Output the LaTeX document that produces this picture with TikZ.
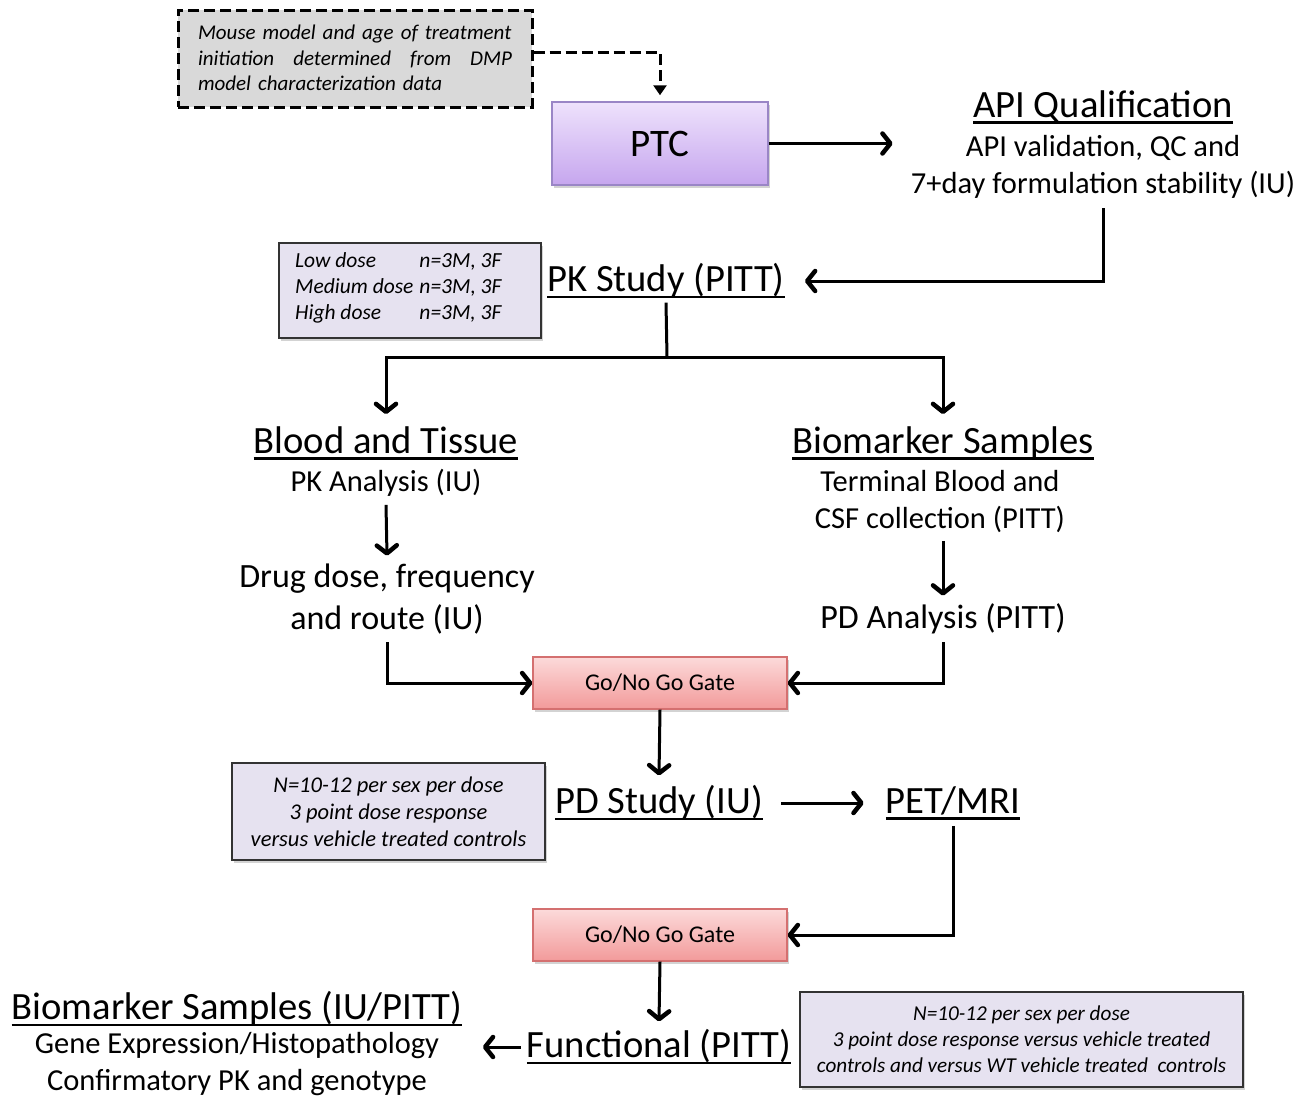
\documentclass[tikz,border=0pt]{standalone}
\usepackage{fontspec}
\setmainfont{Carlito}
\usetikzlibrary{arrows.meta,shadows}
\definecolor{ptctop}{HTML}{EEE2FC}
\definecolor{ptcbot}{HTML}{C6A6EE}
\definecolor{ptcdraw}{HTML}{9A86C6}
\definecolor{gatetop}{HTML}{FCDADA}
\definecolor{gatebot}{HTML}{F29A9A}
\definecolor{gatedraw}{HTML}{D47070}
\definecolor{notefill}{HTML}{E6E2F0}
\definecolor{dashfill}{HTML}{D9D9D9}
\newcommand\myul[1]{\setbox0\hbox{#1}\rlap{\rule[-6.5pt]{\wd0}{2.6pt}}\box0}
\tikzset{
  ttl/.style={font=\fontsize{38.6}{44}\selectfont, inner sep=2pt},
  body/.style={font=\fontsize{30.5}{37}\selectfont, align=center, inner sep=2pt},
  bigbody/.style={font=\fontsize{34}{42}\selectfont, align=center, inner sep=2pt},
  conn/.style={line width=3pt},
  arr/.style={line width=3pt, -{Straight Barb[length=8pt,width=20pt,line width=4.5pt,round]}},
  dasharr/.style={line width=3pt, dash pattern=on 11pt off 5pt, -{Triangle[length=10pt,width=13pt]}},
  shadowed/.style={drop shadow={opacity=0.35, shadow xshift=2pt, shadow yshift=-3pt}},
  notebox/.style={draw=black!80, line width=1.5pt, fill=notefill, shadowed, inner sep=0pt,
     align=center},
  gatebox/.style={draw=gatedraw, line width=1.2pt, top color=gatetop, bottom color=gatebot,
     shadowed, minimum width=254pt, minimum height=52pt, font=\fontsize{24}{28}\selectfont},
}
\begin{document}
\begin{tikzpicture}[x=1pt,y=-1pt]
\useasboundingbox (0,0) rectangle (1307,1100);

% top dashed box
\node[draw=black, line width=3pt, dash pattern=on 11pt off 5pt, fill=dashfill,
      minimum width=354pt, minimum height=97pt, inner sep=0pt] (dbox) at (355,58.5) {};
\node[font=\fontsize{21}{25.5}\selectfont\itshape, text width=314pt, align=left] (dtxt) at (355,58) {%
Mouse model and age of treatment\\
initiation\hfill determined\hfill from\hfill DMP\\
model characterization data};

% PTC
\node[draw=ptcdraw, line width=1.5pt, top color=ptctop, bottom color=ptcbot, shadowed,
      minimum width=216pt, minimum height=83pt, font=\fontsize{39}{44}\selectfont] (ptc) at (660,143.5) {PTC};

% API
\node[ttl] (api) at (1103,107) {\myul{API Qualification}};
\node[body] (apib) at (1103,166.5) {API validation, QC and\\7+day formulation stability (IU)};

% PK
\node[ttl] (pk) at (666,281) {\myul{PK Study (PITT)}};
\node[notebox, minimum width=262pt, minimum height=95pt] (pkn) at (410,290.5) {};
\node[font=\fontsize{21.5}{26}\selectfont\itshape, inner sep=0pt, anchor=west] (pkt) at (295,288) {%
\begin{tabular}{@{}l@{\hspace{6pt}}l@{}}
Low dose & n=3M, 3F\\
Medium dose & n=3M, 3F\\
High dose & n=3M, 3F
\end{tabular}};

\coordinate (split) at (667,357);

% Blood and Tissue
\node[ttl] (bt) at (386,443) {\myul{Blood and Tissue}};
\node[body] (pka) at (386,483) {PK Analysis (IU)};
\node[bigbody] (drug) at (387,599) {Drug dose, frequency\\and route (IU)};

% Biomarker samples
\node[ttl] (bs) at (943,443) {\myul{Biomarker Samples}};
\node[body] (term) at (940,501.5) {Terminal Blood and\\CSF collection (PITT)};
\node[bigbody] (pda) at (943,619) {PD Analysis (PITT)};

% Gate 1
\node[gatebox] (g1) at (660,683) {Go/No Go Gate};

% PD study
\node[ttl] (pd) at (659,803) {\myul{PD Study (IU)}};
\node[ttl] (pet) at (953,803) {\myul{PET/MRI}};
\node[notebox, minimum width=313pt, minimum height=97pt, font=\fontsize{22.5}{27}\selectfont\itshape] (pdn) at (388.5,811.5) {%
N=10-12 per sex per dose\\3 point dose response\\versus vehicle treated controls};

% Gate 2
\node[gatebox] (g2) at (660,935) {Go/No Go Gate};

% Functional
\node[ttl] (fun) at (659,1047) {\myul{Functional (PITT)}};
\node[ttl] (bsb) at (237,1009) {\myul{Biomarker Samples (IU/PITT)}};
\node[body, inner sep=0pt] (gene) at (237,1064) {Gene Expression/Histopathology\\Confirmatory PK and genotype};
\node[notebox, minimum width=443pt, minimum height=95pt, font=\fontsize{21.2}{26}\selectfont\itshape] (fn) at (1021.5,1039.5) {%
N=10-12 per sex per dose\\3 point dose response versus vehicle treated\\controls and versus WT vehicle treated\ \ controls};

% connectors
\draw[dasharr] ([yshift=6pt]dbox.east) -| ([yshift=6pt]ptc.north);
\draw[arr] (ptc.east) -- ([xshift=-16pt]ptc.east -| apib.west);
\draw[arr] ([yshift=-8pt]apib.south) |- ([xshift=18pt]pk.east);
\draw[conn] ([yshift=-2pt]pk.south) -- (split);
\draw[arr] (split) -| ([yshift=10pt]bt.north);
\draw[arr] (split) -| ([yshift=10pt]bs.north);
\draw[arr] ([yshift=-6pt]pka.south) -- ([yshift=6pt]drug.north);
\draw[arr] ([yshift=-6pt]term.south -| pda.north) -- ([yshift=6pt]pda.north);
\draw[arr] ([yshift=-6pt]drug.south) |- (g1.west);
\draw[arr] ([yshift=-6pt]pda.south) |- (g1.east);
\draw[arr] (g1.south) -- ([yshift=8pt]pd.north);
\draw[arr] ([xshift=16pt]pd.east) -- ([xshift=-20pt]pet.west);
\draw[arr] ([yshift=-4pt]pet.south) |- (g2.east);
\draw[arr] (g2.south) -- ([yshift=6pt]fun.north);
\draw[arr] ([xshift=-4pt]fun.west) -- ([xshift=-42pt]fun.west);
\end{tikzpicture}
\end{document}
